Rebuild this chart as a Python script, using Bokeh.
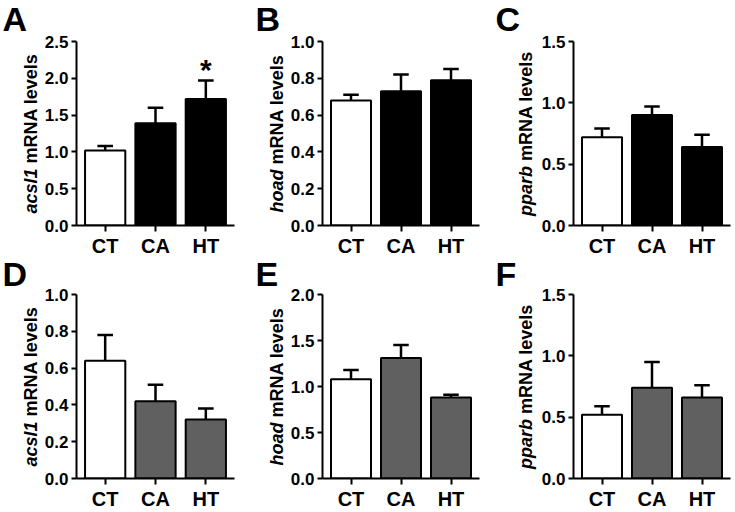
import math
from bokeh.plotting import figure
from bokeh.models import Range1d, FixedTicker, Label, NumeralTickFormatter
from bokeh.layouts import row, column
from bokeh.embed import file_html
from bokeh.resources import INLINE

# ---------------- data ----------------
categories = ["CT", "CA", "HT"]
panel_letters = ["A", "B", "C", "D", "E", "F"]
genes = ["acsl1", "hoad", "pparb", "acsl1", "hoad", "pparb"]

a_mean = [1.02, 1.39, 1.72]
a_sem = [0.06, 0.21, 0.25]
b_mean = [0.68, 0.73, 0.79]
b_sem = [0.03, 0.09, 0.06]
c_mean = [0.72, 0.90, 0.64]
c_sem = [0.07, 0.07, 0.10]
d_mean = [0.64, 0.42, 0.32]
d_sem = [0.14, 0.09, 0.06]
e_mean = [1.08, 1.31, 0.88]
e_sem = [0.10, 0.14, 0.03]
f_mean = [0.52, 0.74, 0.66]
f_sem = [0.07, 0.21, 0.10]

a_ticks = [0.0, 0.5, 1.0, 1.5, 2.0, 2.5]
b_ticks = [0.0, 0.2, 0.4, 0.6, 0.8, 1.0]
c_ticks = [0.0, 0.5, 1.0, 1.5]
d_ticks = [0.0, 0.2, 0.4, 0.6, 0.8, 1.0]
e_ticks = [0.0, 0.5, 1.0, 1.5, 2.0]
f_ticks = [0.0, 0.5, 1.0, 1.5]

a_sig = ["", "", "*"]
no_sig = ["", "", ""]

# ---------------- style / layout ----------------
FONT = "Liberation Sans"
TOP_FILL = "#000000"
BOT_FILL = "#606060"
YLAB_FS = 18
X0, X1 = 0.43, 3.57
FRAME_W = 160
FRAME_H = 184                 # height of the 0..max value area

strip_w = [41, 34, 44]        # label strip (letter + y title) width per column
main_l = [33, 32, 32]         # left border of plot (tick labels)
main_r = [19, 15, 5]
ylab_x = [30.5, 23.0, 31.0]   # centre line of rotated y title inside strip
letter_x = [2, 2, 1]
row_t = [41, 35]              # space above the value area
row_b = [34, 34]              # space below (x axis)
letter_cy = [18, 14]          # letter centre, px below the top of the row

# Arial/Liberation Sans Bold advance widths (1/1000 em) for label layout
W = {'a': 556, 'b': 611, 'c': 556, 'd': 611, 'e': 556, 'h': 611, 'l': 278,
     'm': 889, 'n': 611, 'o': 611, 'p': 611, 'r': 389, 's': 556, 'v': 556,
     '1': 556, ' ': 278, 'R': 722, 'N': 722, 'A': 722}


def tw(s, fs):
    return sum(W.get(ch, 556) for ch in s) * fs / 1000.0


def strip(letter, gene, c, r):
    sw = strip_w[c]
    fh = row_t[r] + FRAME_H + row_b[r]
    top = fh - row_b[r]               # frame height (pixels == data units)
    s = figure(width=sw, height=fh, output_backend="svg", toolbar_location=None,
               title=None, x_range=Range1d(0, sw), y_range=Range1d(0, top),
               x_axis_location=None, y_axis_location=None,
               min_border_left=0, min_border_right=0, min_border_top=0,
               min_border_bottom=row_b[r])
    s.outline_line_color = None
    s.grid.visible = False
    s.background_fill_color = "white"
    s.border_fill_color = "white"
    s.add_layout(Label(x=letter_x[c], y=top - letter_cy[r], text=letter,
                       text_font=FONT, text_font_size="34px", text_font_style="bold",
                       text_color="black", text_align="left", text_baseline="middle"))
    rest = "mRNA levels"
    gap = tw(" ", YLAB_FS)
    total = tw(gene, YLAB_FS) + gap + tw(rest, YLAB_FS)
    center = FRAME_H / 2
    split = center - total / 2 + tw(gene, YLAB_FS)
    s.add_layout(Label(x=ylab_x[c], y=split, text=gene, angle=math.pi / 2, text_font=FONT,
                       text_font_size=f"{YLAB_FS}px", text_font_style="bold italic",
                       text_color="black", text_align="right", text_baseline="middle"))
    s.add_layout(Label(x=ylab_x[c], y=split + gap, text=rest, angle=math.pi / 2, text_font=FONT,
                       text_font_size=f"{YLAB_FS}px", text_font_style="bold",
                       text_color="black", text_align="left", text_baseline="middle"))
    return s


def panel(means, sems, ticks, fill, sig, c, r):
    xs = list(range(1, len(categories) + 1))
    upper = [m + e for m, e in zip(means, sems)]
    ymax = ticks[-1]
    fig_w = main_l[c] + FRAME_W + main_r[c]
    fig_h = row_t[r] + FRAME_H + row_b[r]
    ppy = FRAME_H / ymax
    y_end = ymax * (FRAME_H + row_t[r]) / FRAME_H   # range reaches the top of the canvas
    p = figure(width=fig_w, height=fig_h, output_backend="svg", toolbar_location=None,
               title=None, x_range=Range1d(X0, X1), y_range=Range1d(0, y_end),
               min_border_left=main_l[c], min_border_right=main_r[c],
               min_border_top=0, min_border_bottom=row_b[r])
    p.grid.visible = False
    p.outline_line_color = None
    p.background_fill_color = "white"
    p.border_fill_color = "white"

    fills = ["white"] + [fill] * (len(xs) - 1)
    p.vbar(x=xs, top=means, bottom=0, width=0.8, fill_color=fills,
           line_color="black", line_width=2)
    p.segment(x0=xs, y0=means, x1=xs, y1=upper, line_color="black", line_width=2.5)
    p.segment(x0=[x - 0.155 for x in xs], y0=upper, x1=[x + 0.155 for x in xs], y1=upper,
              line_color="black", line_width=2.5)
    for x, u, sg in zip(xs, upper, sig):
        if sg:
            p.add_layout(Label(x=x, y=u + 11 / ppy, text=sg, text_font=FONT,
                               text_font_size="30px", text_font_style="bold",
                               text_align="center", text_baseline="alphabetic",
                               text_color="black"))

    for ax in (p.xaxis[0], p.yaxis[0]):
        ax.axis_line_width = 2
        ax.axis_line_color = "black"
        ax.major_tick_line_width = 2
        ax.major_tick_line_color = "black"
        ax.major_tick_in = 0
        ax.minor_tick_line_color = None
        ax.major_label_text_font = FONT
        ax.major_label_text_font_style = "bold"
        ax.major_label_text_color = "black"
    p.xaxis.ticker = FixedTicker(ticks=xs)
    p.xaxis.major_label_overrides = {x: cat for x, cat in zip(xs, categories)}
    p.xaxis.major_tick_out = 6
    p.xaxis.major_label_standoff = 3
    p.xaxis.major_label_text_font_size = "20px"
    p.yaxis.ticker = FixedTicker(ticks=ticks)
    p.yaxis.bounds = (0, ymax)
    p.yaxis.formatter = NumeralTickFormatter(format="0.0")
    p.yaxis.major_tick_out = 5
    p.yaxis.major_label_standoff = 3
    p.yaxis.major_label_text_font_size = "17px"
    return p


means = [a_mean, b_mean, c_mean, d_mean, e_mean, f_mean]
sems = [a_sem, b_sem, c_sem, d_sem, e_sem, f_sem]
tick_sets = [a_ticks, b_ticks, c_ticks, d_ticks, e_ticks, f_ticks]
sigs = [a_sig, no_sig, no_sig, no_sig, no_sig, no_sig]

rows = [[], []]
for i in range(6):
    r, c = divmod(i, 3)
    fill = TOP_FILL if r == 0 else BOT_FILL
    rows[r].append(strip(panel_letters[i], genes[i], c, r))
    rows[r].append(panel(means[i], sems[i], tick_sets[i], fill, sigs[i], c, r))

layout = column(row(*rows[0], spacing=0), row(*rows[1], spacing=0), spacing=0)
open("out.html", "w").write(file_html(layout, INLINE))
